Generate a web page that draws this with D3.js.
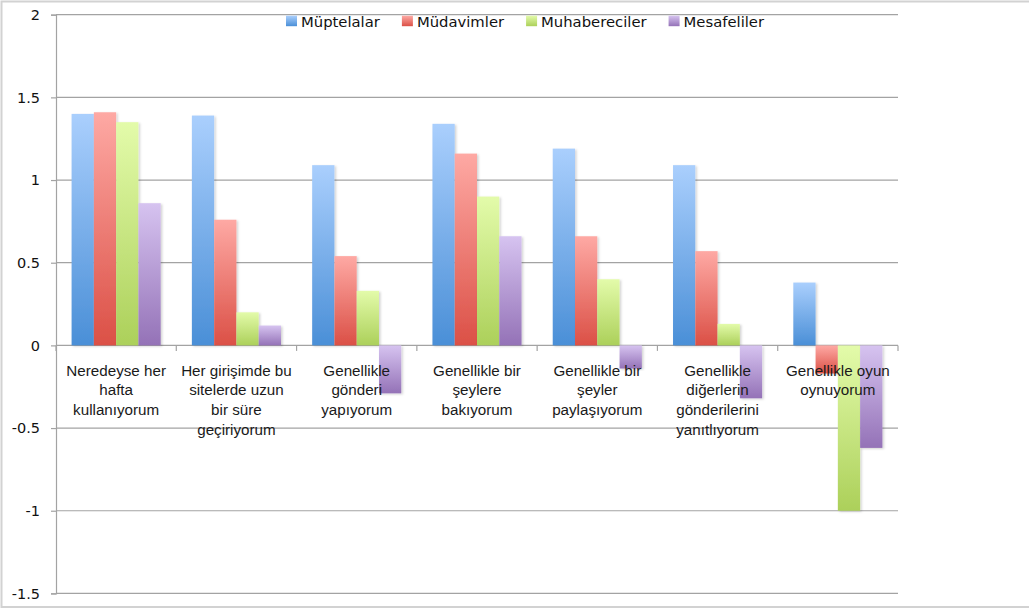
<!DOCTYPE html>
<html>
<head>
<meta charset="utf-8">
<script src="https://cdn.jsdelivr.net/npm/d3@7"></script>
<style>
  html, body { margin: 0; padding: 0; background: #fff; }
  svg { display: block; }
</style>
</head>
<body>
<svg id="chart" width="1029" height="610"></svg>
<script>
// Survey statements (category labels, already broken into lines)
const categories = [
  ["Neredeyse her", "hafta", "kullanıyorum"],
  ["Her girişimde bu", "sitelerde uzun", "bir süre", "geçiriyorum"],
  ["Genellikle", "gönderi", "yapıyorum"],
  ["Genellikle bir", "şeylere", "bakıyorum"],
  ["Genellikle bir", "şeyler", "paylaşıyorum"],
  ["Genellikle", "diğerlerin", "gönderilerini", "yanıtlıyorum"],
  ["Genellikle oyun", "oynuyorum"]
];

const seriesNames = ["Müptelalar", "Müdavimler", "Muhabereciler", "Mesafeliler"];

const muptelalar    = [1.40, 1.39, 1.09, 1.34, 1.19, 1.09, 0.38];
const mudavimler    = [1.41, 0.76, 0.54, 1.16, 0.66, 0.57, -0.17];
const muhabereciler = [1.35, 0.20, 0.33, 0.90, 0.40, 0.13, -1.00];
const mesafeliler   = [0.86, 0.12, -0.29, 0.66, -0.14, -0.32, -0.62];

const yTicks = [-1.5, -1, -0.5, 0, 0.5, 1, 1.5, 2];

const seriesValues = [muptelalar, mudavimler, muhabereciler, mesafeliler];
const seriesColors = [
  { top: "#aacffd", bottom: "#4a8fd7" },
  { top: "#fea9a4", bottom: "#db5046" },
  { top: "#e3fbaa", bottom: "#acd05a" },
  { top: "#d6c3f0", bottom: "#9472b7" }
];

const svg = d3.select("#chart");
const plot = { left: 56, right: 898, top: 14.7, bottom: 593.4 };

// frame around the chart area
svg.append("rect")
  .attr("x", 1.5).attr("y", 1.5)
  .attr("width", 1040).attr("height", 605.5)
  .attr("fill", "none").attr("stroke", "#d2d2d2").attr("stroke-width", 2);

const defs = svg.append("defs");
seriesColors.forEach((c, i) => {
  const g = defs.append("linearGradient")
    .attr("id", "grad" + i)
    .attr("x1", 0).attr("y1", 0).attr("x2", 0).attr("y2", 1);
  g.append("stop").attr("offset", "0%").attr("stop-color", c.top);
  g.append("stop").attr("offset", "100%").attr("stop-color", c.bottom);
});
const shadow = defs.append("filter").attr("id", "shadow")
  .attr("x", "-20%").attr("y", "-5%").attr("width", "150%").attr("height", "115%");
shadow.append("feDropShadow")
  .attr("dx", 1.5).attr("dy", 1).attr("stdDeviation", 0.8)
  .attr("flood-color", "#000").attr("flood-opacity", 0.18);

const x0 = d3.scaleBand()
  .domain(d3.range(categories.length))
  .range([plot.left, plot.right])
  .padding(0);

const x1 = d3.scaleBand()
  .domain(d3.range(seriesNames.length))
  .range([0, x0.bandwidth()])
  .paddingInner(0)
  .paddingOuter(0.7);

const y = d3.scaleLinear()
  .domain([-1.5, 2])
  .range([plot.bottom, plot.top]);

// horizontal gridlines
svg.append("g")
  .selectAll("line")
  .data(yTicks)
  .join("line")
  .attr("x1", plot.left).attr("x2", plot.right)
  .attr("y1", d => y(d)).attr("y2", d => y(d))
  .attr("stroke", "#a3a3a3").attr("stroke-width", 1.2);

// y axis
const yAxis = svg.append("g")
  .attr("transform", `translate(${plot.left},0)`)
  .call(d3.axisLeft(y).tickValues(yTicks).tickSize(5).tickPadding(11)
    .tickFormat(d => String(d)));
yAxis.select(".domain").attr("stroke", "#a3a3a3").attr("stroke-width", 1.2);
yAxis.selectAll(".tick line").attr("stroke", "#a3a3a3").attr("stroke-width", 1.2);
yAxis.selectAll(".tick text")
  .attr("font-family", "DejaVu Sans, sans-serif")
  .attr("font-size", "14.5px")
  .attr("fill", "#111");

// bars
const groups = svg.append("g")
  .selectAll("g")
  .data(categories.map((c, ci) => ci))
  .join("g")
  .attr("transform", ci => `translate(${x0(ci)},0)`);

groups.selectAll("rect")
  .data(ci => seriesValues.map((vals, si) => ({ si, v: vals[ci] })))
  .join("rect")
  .attr("x", d => x1(d.si))
  .attr("width", x1.bandwidth())
  .attr("y", d => y(Math.max(0, d.v)))
  .attr("height", d => Math.abs(y(d.v) - y(0)))
  .attr("fill", d => `url(#grad${d.si})`)
  .attr("filter", "url(#shadow)");

// category ticks along the zero line
svg.append("g")
  .selectAll("line")
  .data(d3.range(categories.length + 1))
  .join("line")
  .attr("x1", i => plot.left + i * x0.step())
  .attr("x2", i => plot.left + i * x0.step())
  .attr("y1", y(0)).attr("y2", y(0) + 5.5)
  .attr("stroke", "#a3a3a3").attr("stroke-width", 1.2);

// category labels
const labels = svg.append("g")
  .selectAll("text")
  .data(categories)
  .join("text")
  .attr("text-anchor", "middle")
  .attr("font-family", "Liberation Sans, Arial, sans-serif")
  .attr("font-size", "15.2px")
  .attr("fill", "#1a1a1a")
  .attr("transform", (d, i) => `translate(${x0(i) + x0.bandwidth() / 2},${y(0) + 30.4})`);
labels.selectAll("tspan")
  .data(d => d)
  .join("tspan")
  .attr("x", 0)
  .attr("y", (d, i) => i * 19.7)
  .text(d => d);

// legend
const legend = svg.append("g");
let lx = 286;
seriesNames.forEach((name, i) => {
  legend.append("rect")
    .attr("x", lx).attr("y", 15.7)
    .attr("width", 11).attr("height", 10.5)
    .attr("fill", `url(#grad${i})`);
  const t = legend.append("text")
    .attr("x", lx + 15).attr("y", 27)
    .attr("font-family", "DejaVu Sans, sans-serif")
    .attr("font-size", "14.8px")
    .attr("fill", "#111")
    .text(name);
  lx += 15 + t.node().getComputedTextLength() + 22;
});
</script>
</body>
</html>
